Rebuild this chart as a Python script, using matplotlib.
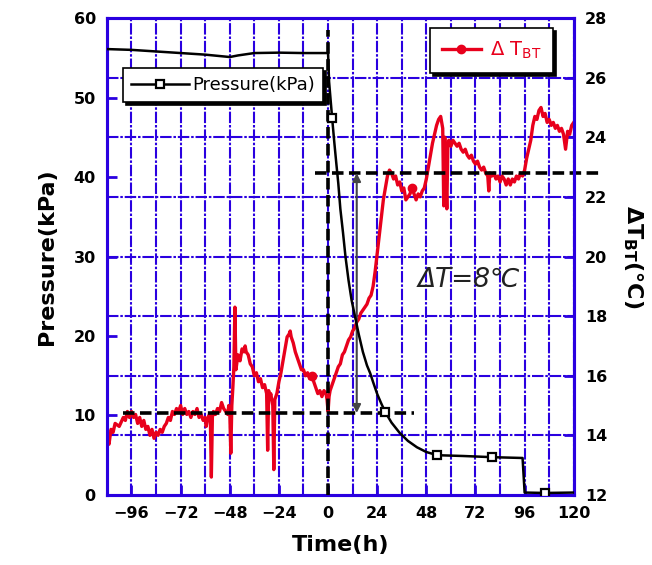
import numpy as np
import matplotlib
matplotlib.use("Agg")
import matplotlib.pyplot as plt

# =============================================================================
# Data
# =============================================================================

# Pressure (left axis, kPa)
p_time = [-108, -96, -84, -72, -60, -52, -48, -44, -36, -24, -12, 0,
          0.5, 2, 3, 4, 5, 6, 7.3, 8.5, 10, 11.5, 13.2, 15, 17, 19, 20.6,
          22, 24, 26, 28, 31, 35, 39, 43.4, 48, 53.4, 66, 80.3, 95, 96, 106, 120]
p_kpa = [56.1, 56.0, 55.8, 55.6, 55.4, 55.2, 55.1, 55.3, 55.6, 55.65, 55.6, 55.6,
         52.0, 47.4, 44.5, 41.8, 39.2, 36.0, 33.0, 30.0, 27.0, 24.5, 22.4, 20.2, 18.0, 16.3, 15.3,
         14.2, 12.7, 11.5, 10.4, 9.1, 7.8, 6.8, 6.0, 5.4, 5.0, 4.9, 4.75, 4.65, 0.3, 0.25, 0.3]
p_marker_times = [2, 28, 53.4, 80.3, 106]

# Delta T_BT (right axis, deg C)
t_time = [-108, -107.5, -107, -106, -105, -104, -102, -100, -99, -98, -97, -96,
          -95, -94, -93, -92, -91, -90, -89, -88, -87, -86, -85, -84, -83, -82,
          -81, -80, -79, -78, -77, -76, -75, -74, -73, -72, -71, -70, -69, -68,
          -67, -66, -65, -64, -63, -62, -61, -60, -59.5, -59, -58, -57.5, -57,
          -56.5, -56, -55, -54, -53, -52, -51, -50, -49, -48.5, -48, -47.5, -47,
          -46.5, -46, -45.5, -45, -44, -43, -42, -41, -40.5, -40, -39, -38, -37,
          -36, -35, -34, -33, -32, -31, -30, -29.5, -29, -28.5, -28, -27, -26.5,
          -26, -25, -24, -23, -22, -21, -20, -19, -18.5, -18, -17, -16, -15, -14,
          -13, -12, -11, -10, -9, -8, -7, -6, -5, -4, -3, -2, -1, -0.5, 0, 0.5,
          1, 2, 3, 4, 5, 6, 7, 8, 9, 10, 11, 12, 13, 14, 15, 16, 17, 18, 19, 20,
          21, 22, 23, 24, 25, 26, 27, 28, 29, 30, 31, 32, 33, 34, 35, 36, 37, 38,
          39, 40, 41, 42, 43, 44, 45, 46, 47, 48, 49, 50, 51, 52, 53, 54, 55,
          55.5, 56, 56.5, 57, 58, 58.5, 59, 60, 61, 62, 63, 64, 65, 66, 67, 68,
          69, 70, 71, 72, 73, 74, 75, 76, 77, 78, 78.5, 79, 80, 81, 82, 83, 84,
          85, 86, 87, 88, 89, 90, 91, 92, 93, 94, 95, 96, 97, 98, 99, 100, 101,
          102, 103, 104, 105, 106, 107, 108, 109, 110, 111, 112, 113, 114, 115,
          116, 117, 118, 119, 120]
t_dT = [13.6, 14.0, 13.7, 14.2, 14.1, 14.4, 14.3, 14.6, 14.5, 14.8, 14.6, 14.8,
        14.6, 14.7, 14.4, 14.6, 14.3, 14.5, 14.2, 14.3, 14.0, 14.2, 13.9, 14.1, 14.0, 14.2,
        14.1, 14.3, 14.4, 14.6, 14.5, 14.8, 14.7, 14.9, 14.8, 15.0, 14.7, 14.9, 14.7, 14.8,
        14.6, 14.8, 14.7, 14.9, 14.6, 14.7, 14.5, 14.6, 14.3, 14.5, 14.7, 14.6, 12.6,
        14.6, 14.8, 14.7, 14.9, 14.8, 15.1, 14.9, 14.8, 14.7, 15.0, 14.8, 13.4, 15.0,
        15.6, 16.3, 18.3, 16.2, 16.7, 16.5, 16.9, 16.8, 17.0, 16.8, 16.7, 16.4, 16.3,
        16.0, 16.1, 15.8, 15.9, 15.6, 15.7, 15.4, 13.5, 15.5, 15.2, 15.4, 15.0, 12.85,
        15.2, 15.4, 15.8, 16.1, 16.5, 16.9, 17.3, 17.4, 17.5, 17.3, 17.1, 16.8, 16.6, 16.4,
        16.2, 16.2, 16.0, 16.1, 15.9, 16.0, 15.8, 15.6, 15.4, 15.5, 15.3, 15.5, 15.4, 15.2, 14.8, 15.3,
        15.5, 15.7, 15.9, 16.1, 16.3, 16.4, 16.7, 16.8, 17.0, 17.2, 17.3, 17.5, 17.6, 17.8, 17.9, 18.1, 18.2, 18.3, 18.4, 18.6,
        18.7, 19.0, 19.5, 20.1, 20.7, 21.3, 21.9, 22.3, 22.7, 22.9, 22.8, 22.6, 22.7, 22.4, 22.5, 22.2, 22.3, 21.9,
        22.0, 22.1, 22.3, 22.1, 21.9, 22.1, 22.0, 22.2, 22.3, 22.6, 23.0, 23.4, 23.8, 24.1, 24.4, 24.6, 24.7,
        24.5, 24.3, 21.7, 24.0, 21.6, 23.7, 23.9, 23.7, 23.9, 23.8, 23.7, 23.8, 23.6, 23.5, 23.6, 23.4,
        23.3, 23.4, 23.2, 23.1, 23.2, 23.0, 22.9, 23.0, 22.8, 22.7, 22.2, 22.8, 22.7, 22.8, 22.6, 22.7, 22.5,
        22.7, 22.6, 22.4, 22.6, 22.4, 22.6, 22.5, 22.7, 22.6, 22.8, 22.7, 22.9, 23.3, 23.6, 23.9, 24.4, 24.7,
        24.6, 24.9, 25.0, 24.7, 24.8, 24.5, 24.6, 24.4, 24.5, 24.3, 24.4, 24.2, 24.3, 24.1,
        23.6, 24.2, 24.1, 24.4, 24.5]
t_marker_times = [-8, 41]

# Guide lines / annotation
dT_low, dT_high = 14.75, 22.8
arrow_time = 14
label_dT = "ΔT=8℃"

# =============================================================================
# Styling
# =============================================================================

BLUE = "#2a00e0"
RED = "#e8001c"
plt.rcParams["font.family"] = ["Liberation Sans Narrow", "DejaVu Sans", "Noto Sans CJK JP"]
plt.rcParams["font.weight"] = "bold"

fig = plt.figure(figsize=(6.52, 5.65), dpi=100)
ax = fig.add_axes([0.164, 0.124, 0.716, 0.844])
ax2 = ax.twinx()
ax.set_zorder(ax2.get_zorder() + 1)
ax.patch.set_visible(False)

ax.set_xlim(-108, 120)
ax.set_ylim(0, 60)
ax2.set_ylim(12, 28)
ax.set_xticks(np.arange(-96, 121, 24))
ax.set_yticks(np.arange(0, 61, 10))
ax2.set_yticks(np.arange(12, 29, 2))

# grid (drawn on the lower axes so the data sits on top)
grid_dash = (5.5, 0.9, 1.2, 0.9)
for v in np.arange(-96, 121, 12):
    ax2.axvline(v, color=BLUE, lw=1.5, dashes=grid_dash, zorder=0)
for h in np.arange(14, 28, 2):
    ax2.axhline(h, color=BLUE, lw=1.5, dashes=grid_dash, zorder=0)

for a in (ax, ax2):
    for s in a.spines.values():
        s.set_color(BLUE)
        s.set_linewidth(2.2)
ax.tick_params(axis="both", direction="in", color=BLUE, width=2, length=7,
               labelsize=11.5, pad=8)
ax2.tick_params(axis="y", direction="in", color=BLUE, width=2, length=7,
                labelsize=11.5, pad=8)

# delta T series
mk_t = [t_time.index(v) for v in t_marker_times]
ln_t, = ax2.plot(t_time, t_dT, color=RED, lw=2.4, marker="o", ms=6,
                 markevery=mk_t, label="Δ T$_{\\mathregular{BT}}$", zorder=3)

# pressure series
mk_p = [p_time.index(v) for v in p_marker_times]
ln_p, = ax.plot(p_time, p_kpa, color="black", lw=1.8, marker="s", ms=6,
                mfc="white", mec="black", mew=1.6, markevery=mk_p,
                label="Pressure(kPa)", zorder=4)

# dashed guide lines
guide_dash = (3.2, 1.5)
ax.plot([0, 0], [0, 58.5], color="black", lw=2.6, dashes=guide_dash, zorder=3)
ax2.plot([-100, 42], [dT_low, dT_low], color="black", lw=2.6, dashes=guide_dash, zorder=4)
ax2.plot([-6.4, 134.5], [dT_high, dT_high], color="black", lw=2.6, dashes=guide_dash,
         zorder=4, clip_on=False)
ax2.annotate("", xy=(arrow_time, dT_low), xytext=(arrow_time, dT_high),
             arrowprops=dict(arrowstyle="<|-|>", color="#444444", lw=1.5,
                             mutation_scale=12, shrinkA=0, shrinkB=0), zorder=4)
ax2.text(69, 19.2, label_dT, fontsize=19, style="italic", fontweight="normal",
         ha="center", va="center", color="#222222",
         family=["DejaVu Sans", "Noto Sans CJK JP"], zorder=5)

# legends
leg1 = ax.legend(handles=[ln_p], loc="upper left", bbox_to_anchor=(0.034, 0.895),
                 borderaxespad=0, fancybox=False, edgecolor="black", framealpha=1,
                 shadow={"color": "black", "alpha": 1}, handlelength=3.2,
                 handletextpad=0.2, borderpad=0.45,
                 prop={"weight": "normal", "size": 13})
leg1.get_frame().set_linewidth(1.2)
leg2 = ax2.legend(handles=[ln_t], loc="upper left", bbox_to_anchor=(0.692, 0.979),
                  borderaxespad=0, fancybox=False, edgecolor="black", framealpha=1,
                  shadow={"color": "black", "alpha": 1}, handlelength=2.0,
                  handletextpad=0.5, borderpad=0.6, labelcolor=RED,
                  prop={"weight": "normal", "size": 14})
leg2.get_frame().set_linewidth(1.2)

# axis labels
ax.set_xlabel("Time(h)", fontsize=16, fontweight="bold", labelpad=10)
ax.set_ylabel("Pressure(kPa)", fontsize=16, fontweight="bold", labelpad=12)
ax2.set_ylabel(r"$\Delta$T$_{\rm BT}$(°C)", fontsize=16, fontweight="bold",
               rotation=270, labelpad=27)

fig.savefig("out.png", dpi=100)
